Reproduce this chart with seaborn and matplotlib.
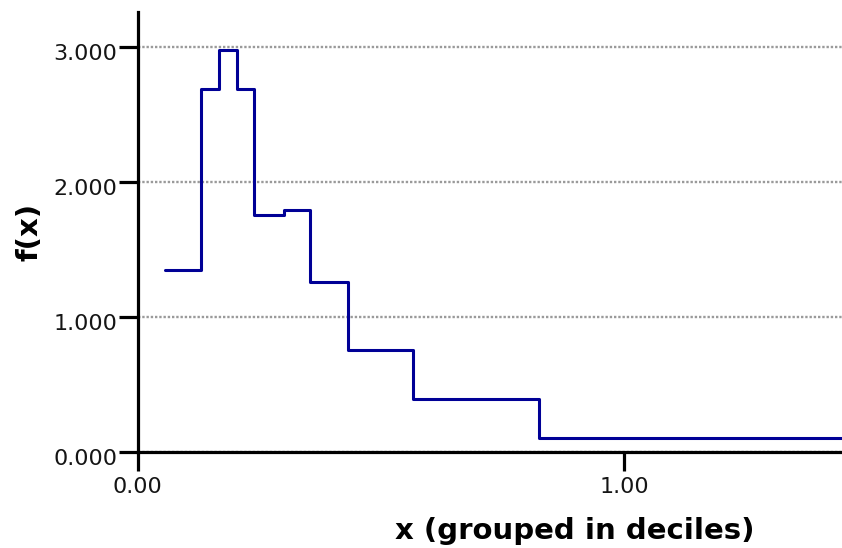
import matplotlib
matplotlib.use("Agg")
import matplotlib.pyplot as plt
import matplotlib.transforms as mtransforms
import pandas as pd
import seaborn as sns

# Decile bin edges of x and the density f(x) within each bin
bin_edges = [0.0565, 0.130, 0.1675, 0.2045, 0.2395, 0.301, 0.3546, 0.4335, 0.567, 0.826, 1.80]
density = [1.35, 2.69, 2.98, 2.69, 1.757, 1.797, 1.26, 0.758, 0.395, 0.103]

y_ticks = [0, 1, 2, 3]
y_tick_labels = ["0.000", "1.000", "2.000", "3.000"]
x_ticks = [0, 1]
x_tick_labels = ["0.00", "1.00"]

# steps-post needs the last level repeated at the final edge
df = pd.DataFrame({"x": bin_edges, "f": density + [density[-1]]})

sns.set_theme(style="white")
plt.rcParams["font.family"] = ["DejaVu Sans"]

fig = plt.figure(figsize=(8.42, 5.48), dpi=100)
ax = fig.add_axes([137.5 / 842, 95.7 / 548, 704.5 / 842, 440.3 / 548])

sns.lineplot(data=df, x="x", y="f", ax=ax, drawstyle="steps-post",
             color="#000096", linewidth=2.2, sort=False, estimator=None)

ax.set_xlim(0, 1.448)
ax.set_ylim(0, 3.26)

# dotted horizontal reference lines
ax.set_axisbelow(True)
ax.yaxis.grid(True, color="#9a9a9a", linestyle=(0, (1, 0.8)), linewidth=1.7)
ax.xaxis.grid(False)

for side in ("top", "right"):
    ax.spines[side].set_visible(False)
for side in ("left", "bottom"):
    ax.spines[side].set_color("black")
    ax.spines[side].set_linewidth(2.3)

ax.set_yticks(y_ticks)
ax.set_yticklabels(y_tick_labels)
ax.set_xticks(x_ticks)
ax.set_xticklabels(x_tick_labels)
ax.tick_params(axis="both", which="major", direction="out", length=14, width=2.3,
               color="black", labelcolor="#151515", labelsize=16,
               left=True, bottom=True)
ax.tick_params(axis="y", pad=0.5)
ax.tick_params(axis="x", pad=3.5)

# y tick labels sit slightly below their tick marks
shift = mtransforms.ScaledTranslation(0, -4.5 / 100, fig.dpi_scale_trans)
for lab in ax.get_yticklabels():
    lab.set_transform(lab.get_transform() + shift)

ax.set_xlabel("x (grouped in deciles)", fontsize=21, fontweight="bold", color="black")
ax.xaxis.label.set_va("baseline")
ax.xaxis.set_label_coords(0.621, (452.3 - 539) / 440.3)

ax.set_ylabel("f(x)", fontsize=21, fontweight="bold", color="black")
ax.yaxis.label.set_va("center")
ax.yaxis.set_label_coords(-0.1526, 0.5)

fig.savefig("out.png", dpi=100)
